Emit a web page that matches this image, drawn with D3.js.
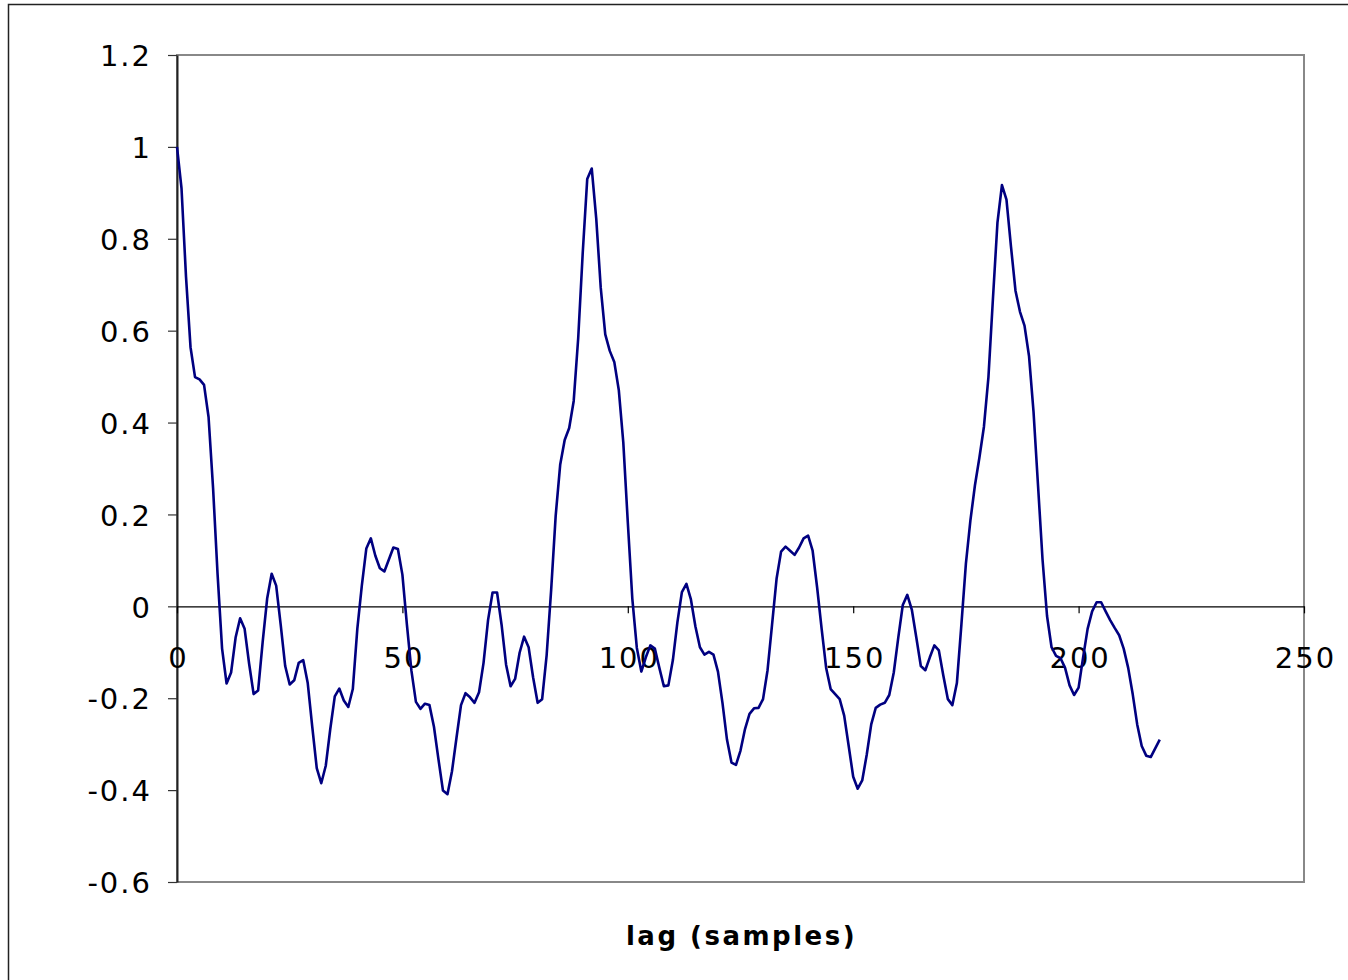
<!DOCTYPE html>
<head>
<meta charset="utf-8">
<script src="https://d3js.org/d3.v7.min.js"></script>
<style>
  body { margin: 0; background: #fff; }
  text { font-family: "DejaVu Sans", Verdana, sans-serif; }
</style>
</head>
<body>
<div id="chart"></div>
<script>

// autocorrelation values, one per lag (0 .. 218)
var acf = [
  1.0, 0.91, 0.717, 0.564, 0.499, 0.494, 0.482, 0.412, 0.258, 0.07,
  -0.092, -0.168, -0.144, -0.068, -0.026, -0.049, -0.125, -0.191, -0.183, -0.078,
  0.017, 0.071, 0.045, -0.040, -0.130, -0.170, -0.161, -0.123, -0.117, -0.167,
  -0.262, -0.352, -0.385, -0.347, -0.267, -0.196, -0.179, -0.205, -0.219, -0.180,
  -0.049, 0.045, 0.126, 0.148, 0.11, 0.083, 0.076, 0.102, 0.128, 0.125,
  0.069, -0.04, -0.14, -0.208, -0.223, -0.212, -0.215, -0.262, -0.333, -0.401,
  -0.409, -0.359, -0.286, -0.215, -0.189, -0.198, -0.210, -0.187, -0.123, -0.030,
  0.030, 0.030, -0.040, -0.127, -0.174, -0.158, -0.101, -0.066, -0.089, -0.155,
  -0.210, -0.202, -0.106, 0.036, 0.197, 0.308, 0.362, 0.388, 0.447, 0.584,
  0.769, 0.930, 0.953, 0.844, 0.693, 0.592, 0.556, 0.532, 0.471, 0.357,
  0.183, 0.017, -0.09, -0.142, -0.111, -0.085, -0.092, -0.134, -0.174, -0.172,
  -0.117, -0.035, 0.031, 0.049, 0.015, -0.044, -0.089, -0.105, -0.099, -0.105,
  -0.142, -0.210, -0.290, -0.340, -0.345, -0.314, -0.267, -0.234, -0.222, -0.221,
  -0.202, -0.139, -0.040, 0.060, 0.119, 0.130, 0.121, 0.112, 0.128, 0.148,
  0.154, 0.121, 0.041, -0.049, -0.134, -0.180, -0.191, -0.202, -0.238, -0.304,
  -0.371, -0.397, -0.379, -0.323, -0.257, -0.221, -0.214, -0.210, -0.193, -0.144,
  -0.068, 0.003, 0.025, -0.007, -0.068, -0.130, -0.139, -0.111, -0.085, -0.096,
  -0.151, -0.202, -0.215, -0.167, -0.040, 0.093, 0.187, 0.263, 0.324, 0.391,
  0.499, 0.670, 0.835, 0.917, 0.885, 0.783, 0.687, 0.641, 0.611, 0.545,
  0.424, 0.263, 0.102, -0.021, -0.089, -0.108, -0.113, -0.134, -0.172, -0.193,
  -0.177, -0.111, -0.049, -0.011, 0.009, 0.009, -0.011, -0.030, -0.047, -0.063,
  -0.092, -0.134, -0.191, -0.257, -0.304, -0.325, -0.328, -0.309, -0.290
];

var xTicks = [0, 50, 100, 150, 200, 250];
var yTicks = [-0.6, -0.4, -0.2, 0, 0.2, 0.4, 0.6, 0.8, 1, 1.2];
var xTitle = "lag (samples)";

var width = 1348,
    height = 980;

var plot = {left: 177, right: 1304, top: 55, bottom: 882};

var svg = d3.select("#chart")
    .append("svg")
    .attr("width", width)
    .attr("height", height);

// outer chart frame (runs off the right and bottom edges)
svg.append("rect")
    .attr("x", 8.5)
    .attr("y", 4.5)
    .attr("width", width)
    .attr("height", height)
    .attr("fill", "#fff")
    .attr("stroke", "#222")
    .attr("stroke-width", 1.5);

var x = d3.scaleLinear().domain([0, 250]).range([plot.left, plot.right]);
var y = d3.scaleLinear().domain([-0.6, 1.2]).range([plot.bottom, plot.top]);

// plot area border
svg.append("rect")
    .attr("x", plot.left)
    .attr("y", plot.top)
    .attr("width", plot.right - plot.left)
    .attr("height", plot.bottom - plot.top)
    .attr("fill", "none")
    .attr("stroke", "#888")
    .attr("stroke-width", 2);

var fmt = function(d) { return String(Math.round(d * 10) / 10); };

// y axis
var yAxis = svg.append("g")
    .attr("transform", "translate(" + plot.left + ",0)")
    .call(d3.axisLeft(y).tickValues(yTicks).tickSize(9).tickSizeOuter(0).tickFormat(fmt));

yAxis.select(".domain").attr("stroke", "#222").attr("stroke-width", 2);
yAxis.selectAll(".tick line").attr("stroke", "#333").attr("stroke-width", 1.2);
yAxis.selectAll(".tick text")
    .attr("x", -25)
    .attr("dy", "0.37em")
    .attr("fill", "#000")
    .style("font-size", "29px")
    .style("letter-spacing", "2px");

// x axis along zero
var xAxis = svg.append("g")
    .attr("transform", "translate(0," + y(0) + ")")
    .call(d3.axisBottom(x).tickValues(xTicks).tickSize(7).tickSizeOuter(0).tickFormat(fmt));

xAxis.select(".domain").attr("stroke", "#000").attr("stroke-width", 1.2);
xAxis.selectAll(".tick line").attr("stroke", "#000").attr("stroke-width", 1.2);
xAxis.selectAll(".tick text")
    .attr("y", 62)
    .attr("dy", 0)
    .attr("dx", "1px")
    .attr("fill", "#000")
    .style("font-size", "29px")
    .style("letter-spacing", "2px");

// the series
var line = d3.line()
    .x(function(d, i) { return x(i); })
    .y(function(d) { return y(d); });

svg.append("path")
    .datum(acf)
    .attr("d", line)
    .attr("fill", "none")
    .attr("stroke", "#000080")
    .attr("stroke-width", 2.6)
    .attr("stroke-linejoin", "round");

// axis title
svg.append("text")
    .attr("x", (plot.left + plot.right) / 2 + 1)
    .attr("y", 945)
    .attr("text-anchor", "middle")
    .style("font-size", "26px")
    .style("font-weight", "bold")
    .style("letter-spacing", "2.5px")
    .text(xTitle);

</script>
</body>
